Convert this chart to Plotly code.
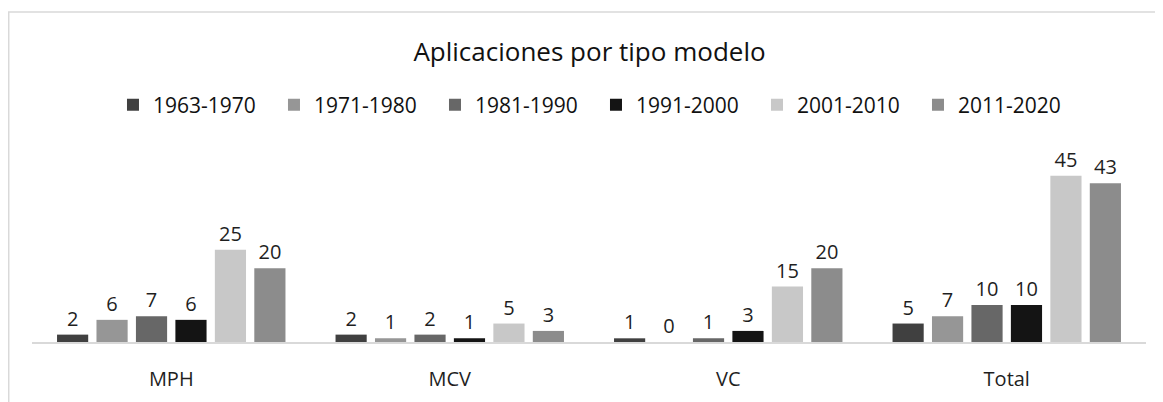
import plotly.graph_objects as go

categories = ["MPH", "MCV", "VC", "Total"]
series_names = ["1963-1970", "1971-1980", "1981-1990", "1991-2000", "2001-2010", "2011-2020"]
v_1963_1970 = [2, 2, 1, 5]
v_1971_1980 = [6, 1, 0, 7]
v_1981_1990 = [7, 2, 1, 10]
v_1991_2000 = [6, 1, 3, 10]
v_2001_2010 = [25, 5, 15, 45]
v_2011_2020 = [20, 3, 20, 43]
values = [v_1963_1970, v_1971_1980, v_1981_1990, v_1991_2000, v_2001_2010, v_2011_2020]
colors = ["#404040", "#969696", "#676767", "#141414", "#c8c8c8", "#8c8c8c"]

FONT = "Open Sans, Noto Sans, sans-serif"

fig = go.Figure()
for name, vals, col in zip(series_names, values, colors):
    fig.add_trace(go.Bar(
        name=name, x=categories, y=vals, marker=dict(color=col, line=dict(width=0)),
        text=[str(v) for v in vals], textposition="outside", cliponaxis=False,
        textfont=dict(family=FONT, size=20, color="#1f1f1f"),
    ))

fig.update_layout(
    width=1163, height=402,
    margin=dict(l=24, r=25, t=142, b=68),
    paper_bgcolor="white", plot_bgcolor="white",
    barmode="group", bargap=0.15, bargroupgap=0.21,
    title=dict(text="Aplicaciones por tipo modelo", x=0.5, xanchor="center",
               y=1 - 44 / 402, yanchor="middle", yref="container",
               font=dict(family=FONT, size=26, color="#111111")),
    legend=dict(orientation="h", x=0.0727, xanchor="left", y=1.234, yanchor="middle",
                font=dict(family=FONT, size=21, color="#111111"),
                entrywidth=116, traceorder="normal"),
    xaxis=dict(showline=True, linecolor="#d9d9d9", linewidth=1.5, ticks="",
               ticklabelstandoff=18,
               tickfont=dict(family=FONT, size=20, color="#1f1f1f")),
    yaxis=dict(range=[0, 52], visible=False, showgrid=False),
    showlegend=True,
)
fig.add_shape(type="rect", xref="paper", yref="paper",
              x0=-0.0209, x1=1.05, y0=-0.5, y1=1.719,
              line=dict(color="#d9d9d9", width=1.5), fillcolor="rgba(0,0,0,0)", layer="below")
fig.write_html("out.html")
